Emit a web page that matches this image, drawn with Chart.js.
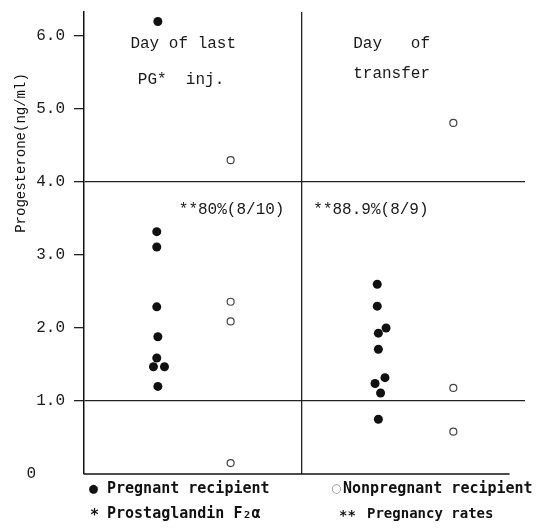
<!DOCTYPE html>
<html>
<head>
<meta charset="utf-8">
<script src="https://cdn.jsdelivr.net/npm/chart.js@4.4.1/dist/chart.umd.min.js"></script>
<style>
  html, body { margin: 0; padding: 0; background: #fff; }
</style>
</head>
<body>
<canvas id="chart" width="539" height="530"></canvas>
<script>
/* ── Datos ─────────────────────────────────────── */
const yTicks = [0, 1, 2, 3, 4, 5, 6];
const yMax = 6.33;
const refLines = [1, 4];
const dividerAt = 1.97;
const xAxisEnd = 3.86;

// Día de la última inyección de PG
const pregPgY = [6.2, 3.32, 3.11, 2.29, 1.88, 1.59, 1.47, 1.47, 1.2];
const pregPgX = [0.67, 0.66, 0.66, 0.66, 0.67, 0.66, 0.63, 0.73, 0.67];
const nonPgY = [4.3, 2.36, 2.09, 0.15];
const nonPgX = [1.33, 1.33, 1.33, 1.33];

// Día de la transferencia
const pregTrY = [2.6, 2.3, 2.0, 1.93, 1.71, 1.32, 1.24, 1.11, 0.75];
const pregTrX = [2.66, 2.66, 2.74, 2.67, 2.67, 2.73, 2.64, 2.69, 2.67];
const nonTrY = [4.81, 1.18, 0.58];
const nonTrX = [3.35, 3.35, 3.35];

const groupTitles = [["Day of last", "PG*  inj."], ["Day   of", "transfer"]];
const rateLabels = ["**80%(8/10)", "**88.9%(8/9)"];
const yTitle = "Progesterone(ng/ml)";

const toPoints = (xs, ys) => ys.map((y, i) => ({ x: xs[i], y }));

/* ── Textos y eje inferior ─────────────────────── */
const annotations = {
  id: "annotations",
  afterDatasetsDraw(chart) {
    const { ctx, scales } = chart;
    const x = scales.x, y = scales.y;
    ctx.save();

    // eje x (termina antes que las líneas de 1.0 y 4.0)
    ctx.strokeStyle = "#111";
    ctx.lineWidth = 1.5;
    ctx.beginPath();
    ctx.moveTo(x.left, y.getPixelForValue(0));
    ctx.lineTo(x.getPixelForValue(xAxisEnd), y.getPixelForValue(0));
    ctx.stroke();

    ctx.fillStyle = "#1a1a1a";
    ctx.font = "16px 'Liberation Mono', monospace";
    ctx.textBaseline = "middle";

    // títulos de grupo
    ctx.textAlign = "center";
    ctx.fillText(groupTitles[0][0], x.getPixelForValue(0.9), y.getPixelForValue(5.9));
    ctx.fillText(groupTitles[0][1], x.getPixelForValue(0.88), y.getPixelForValue(5.4));
    ctx.fillText(groupTitles[1][0], x.getPixelForValue(2.79), y.getPixelForValue(5.9));
    ctx.fillText(groupTitles[1][1], x.getPixelForValue(2.79), y.getPixelForValue(5.48));

    // tasas de preñez
    ctx.textAlign = "left";
    ctx.fillText(rateLabels[0], x.getPixelForValue(0.86), y.getPixelForValue(3.62));
    ctx.fillText(rateLabels[1], x.getPixelForValue(2.08), y.getPixelForValue(3.62));

    // título del eje y
    ctx.save();
    ctx.translate(21, 153);
    ctx.rotate(-Math.PI / 2);
    ctx.textAlign = "center";
    ctx.fillStyle = "#111";
    ctx.font = "14px 'Liberation Mono', monospace";
    ctx.fillText(yTitle, 0, 0);
    ctx.restore();

    // leyenda
    const legendFont = "bold 15px 'DejaVu Sans Mono', monospace";
    ctx.fillStyle = "#111";
    ctx.font = legendFont;
    ctx.textAlign = "left";
    ctx.fillText("●", 89, 489);
    ctx.fillText("Pregnant recipient", 107, 489);
    ctx.fillStyle = "#888";
    ctx.font = "12px 'DejaVu Sans', sans-serif";
    ctx.fillText("○", 331, 489);
    ctx.fillStyle = "#111";
    ctx.font = legendFont;
    ctx.fillText("Nonpregnant recipient", 343, 489);
    ctx.fillText("*", 90, 516);
    ctx.fillText("Prostaglandin F\u2082\u03b1", 107, 514);
    ctx.font = "bold 14px 'DejaVu Sans Mono', monospace";
    ctx.fillText("**", 339, 516);
    ctx.fillText("Pregnancy rates", 367, 514);

    ctx.restore();
  },
};

/* ── Gráfico ───────────────────────────────────── */
const pregStyle = { pointRadius: 4.5, backgroundColor: "#111", borderColor: "#111", borderWidth: 0 };
const nonStyle = { pointRadius: 3.5, backgroundColor: "#fff", borderColor: "#444", borderWidth: 1.2 };

new Chart(document.getElementById("chart").getContext("2d"), {
  type: "scatter",
  data: {
    datasets: [
      { label: "Pregnant (PG)", data: toPoints(pregPgX, pregPgY), ...pregStyle },
      { label: "Nonpregnant (PG)", data: toPoints(nonPgX, nonPgY), ...nonStyle },
      { label: "Pregnant (transfer)", data: toPoints(pregTrX, pregTrY), ...pregStyle },
      { label: "Nonpregnant (transfer)", data: toPoints(nonTrX, nonTrY), ...nonStyle },
    ],
  },
  options: {
    responsive: false,
    devicePixelRatio: 1,
    animation: false,
    layout: { padding: { left: 0, top: 12, right: 14, bottom: 56 } },
    scales: {
      x: {
        type: "linear",
        min: 0,
        max: 4,
        afterBuildTicks: (scale) => { scale.ticks = [{ value: dividerAt }]; },
        afterFit: (scale) => { scale.height = 0; },
        ticks: { display: false },
        grid: { color: "#222", lineWidth: 1.3, drawTicks: false },
        border: { display: false },
      },
      y: {
        min: 0,
        max: yMax,
        afterBuildTicks: (scale) => { scale.ticks = yTicks.map((v) => ({ value: v })); },
        afterFit: (scale) => {
          scale.width = 84;
          scale.paddingTop = 0;
          scale.paddingBottom = 0;
        },
        ticks: {
          color: "#1a1a1a",
          padding: 9,
          font: { family: "'Liberation Mono', monospace", size: 16 },
          callback: (v) => (v === 0 ? "0   " : v.toFixed(1)),
        },
        grid: {
          tickLength: 10,
          lineWidth: 1.3,
          color: (c) => (refLines.includes(c.tick.value) ? "#222" : "rgba(0,0,0,0)"),
          tickColor: (c) => (c.tick.value === 0 ? "rgba(0,0,0,0)" : "#222"),
        },
        border: { display: true, color: "#111", width: 1.5 },
      },
    },
    plugins: {
      legend: { display: false },
      tooltip: { enabled: false },
    },
  },
  plugins: [annotations],
});
</script>
</body>
</html>
